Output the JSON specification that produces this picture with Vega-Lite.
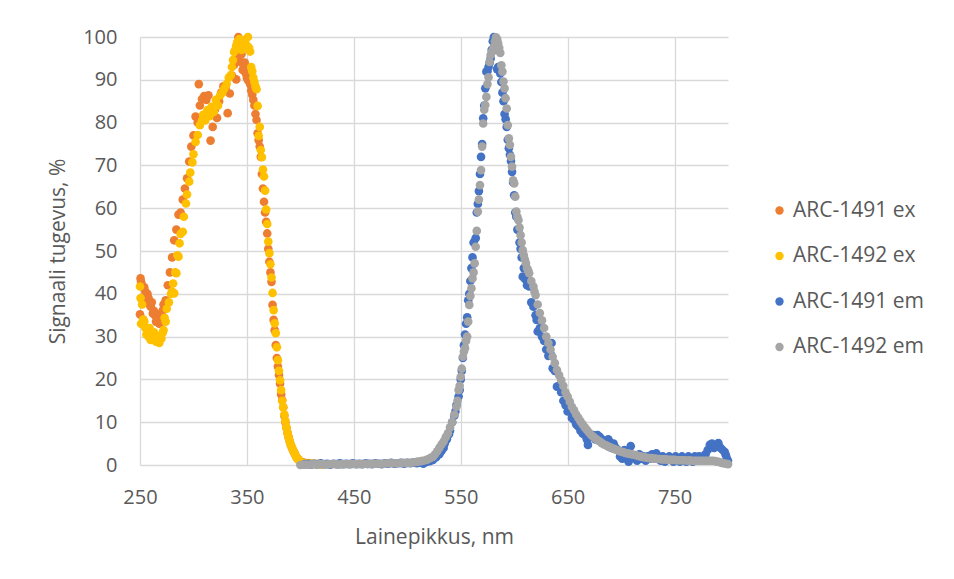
{
"$schema":"https://vega.github.io/schema/vega-lite/v6.json",
"width":588,"height":428,
"autosize":{"type":"none"},
"padding":{"left":140,"top":37,"right":226,"bottom":114},
"background":"white",
"config":{"font":"Open Sans","view":{"stroke":null},
"axis":{"labelColor":"#595959","titleColor":"#595959","labelFontSize":20,"titleFontSize":21,"titleFontWeight":"normal","ticks":false,"gridColor":"#d9d9d9","gridWidth":1.3,"domain":false,"labelFlush":false,"labelFont":"Open Sans","titleFont":"Open Sans"},
"legend":{"labelFontSize":21,"labelColor":"#595959","labelFont":"Open Sans","symbolType":"circle","symbolSize":70,"rowPadding":23.5,"labelOffset":3,"title":null}},
"encoding":{
"x":{"field":"x","type":"quantitative","scale":{"domain":[250,800],"nice":false,"zero":false},"axis":{"values":[250,350,450,550,650,750],"title":"Lainepikkus, nm","labelPadding":22,"titlePadding":19}},
"y":{"field":"y","type":"quantitative","scale":{"domain":[0,100],"nice":false},"axis":{"values":[0,10,20,30,40,50,60,70,80,90,100],"title":"Signaali tugevus, %","labelPadding":23,"titlePadding":14}},
"color":{"scale":{"domain":["ARC-1491 ex","ARC-1492 ex","ARC-1491 em","ARC-1492 em"],"range":["#ED7D31","#FFC000","#4472C4","#A5A5A5"]},"legend":{"orient":"none","legendX":629,"legendY":163}}
},
"layer":[
{"data":{"values":[
{"x":250,"y":35.2},{"x":250.5,"y":43.6},{"x":251,"y":42.8},{"x":252,"y":42.0},{"x":253,"y":34.0},{"x":254,"y":41.5},{"x":255,"y":40.5},{"x":256,"y":38.5},{"x":257,"y":40.0},{"x":258,"y":39.0},{"x":259,"y":37.5},{"x":260,"y":37.0},{"x":261,"y":38.0},{"x":262,"y":35.4},{"x":263,"y":36.0},{"x":264,"y":35.0},{"x":265,"y":33.5},{"x":266,"y":35.0},{"x":267,"y":34.0},{"x":268,"y":33.0},{"x":269,"y":34.5},{"x":270,"y":33.5},{"x":271,"y":36.0},{"x":272,"y":37.5},{"x":274,"y":38.5},{"x":276,"y":42.0},{"x":278,"y":45.0},{"x":280,"y":48.5},{"x":282,"y":52.5},{"x":284,"y":55.0},{"x":286,"y":58.5},{"x":288,"y":59.0},{"x":290,"y":62.0},{"x":292,"y":64.6},{"x":294,"y":67.0},{"x":296,"y":70.9},{"x":298,"y":74.4},{"x":300,"y":77.0},{"x":302,"y":81.4},{"x":304,"y":80.0},{"x":305,"y":89.0},{"x":306,"y":84.0},{"x":308,"y":85.5},{"x":310,"y":86.2},{"x":312,"y":85.3},{"x":314,"y":86.4},{"x":316,"y":75.8},{"x":318,"y":79.0},{"x":320,"y":83.0},{"x":322,"y":81.1},{"x":324,"y":85.0},{"x":326,"y":87.0},{"x":328,"y":88.5},{"x":330,"y":88.0},{"x":332,"y":82.2},{"x":334,"y":86.8},{"x":336,"y":91.0},{"x":338,"y":93.5},{"x":340,"y":90.1},{"x":341,"y":95.5},{"x":342,"y":100.0},{"x":343,"y":98.0},{"x":344,"y":94.2},{"x":345,"y":96.0},{"x":346,"y":92.3},{"x":347,"y":93.0},{"x":348,"y":94.0},{"x":349,"y":91.5},{"x":350,"y":90.5},{"x":351,"y":89.9},{"x":352,"y":91.0},{"x":353,"y":89.0},{"x":354,"y":87.5},{"x":355,"y":86.5},{"x":356,"y":85.3},{"x":357,"y":84.0},{"x":358,"y":82.0},{"x":359,"y":80.6},{"x":360,"y":77.5},{"x":361,"y":75.9},{"x":362,"y":74.4},{"x":363,"y":72.0},{"x":364,"y":68.0},{"x":365,"y":64.6},{"x":366,"y":61.5},{"x":367,"y":59.0},{"x":368,"y":56.8},{"x":369,"y":54.1},{"x":370,"y":50.5},{"x":371,"y":47.5},{"x":372,"y":45.0},{"x":373,"y":42.8},{"x":374,"y":37.4},{"x":375,"y":33.9},{"x":376,"y":31.5},{"x":377,"y":28.0},{"x":378,"y":25.0},{"x":379,"y":23.0},{"x":380,"y":21.0},{"x":381,"y":19.0},{"x":382,"y":16.5},{"x":383,"y":15.2},{"x":384,"y":13.5},{"x":385,"y":11.5},{"x":386,"y":10.0},{"x":387,"y":8.7},{"x":388,"y":7.5},{"x":389,"y":6.5},{"x":390,"y":5.6},{"x":391,"y":4.8},{"x":392,"y":4.1},{"x":393,"y":3.5},{"x":394,"y":3.0},{"x":395,"y":2.5},{"x":396,"y":2.0},{"x":397,"y":1.6},{"x":398,"y":1.3},{"x":399,"y":1.0},{"x":400,"y":0.8},{"x":402,"y":0.6},{"x":404,"y":0.5},{"x":406,"y":0.4},{"x":408,"y":0.4},{"x":410,"y":0.3},{"x":412,"y":0.3},{"x":415,"y":0.2},{"x":418,"y":0.2},{"x":420,"y":0.2}
]},"mark":{"type":"circle","size":75,"opacity":1},"encoding":{"color":{"datum":"ARC-1491 ex"}}},
{"data":{"values":[
{"x":250,"y":41.7},{"x":250.5,"y":39.0},{"x":251,"y":33.0},{"x":252,"y":37.5},{"x":253,"y":34.0},{"x":254,"y":33.5},{"x":255,"y":32.0},{"x":256,"y":30.5},{"x":257,"y":31.5},{"x":258,"y":30.0},{"x":259,"y":32.0},{"x":260,"y":29.2},{"x":261,"y":30.5},{"x":262,"y":29.5},{"x":263,"y":31.0},{"x":264,"y":30.0},{"x":265,"y":28.8},{"x":266,"y":29.8},{"x":267,"y":29.0},{"x":268,"y":28.5},{"x":269,"y":30.0},{"x":270,"y":29.5},{"x":271,"y":30.8},{"x":272,"y":31.5},{"x":273,"y":34.4},{"x":274,"y":33.5},{"x":275,"y":36.5},{"x":277,"y":38.0},{"x":279,"y":40.0},{"x":280,"y":40.5},{"x":281,"y":42.4},{"x":282,"y":40.1},{"x":283,"y":45.0},{"x":284,"y":44.8},{"x":285,"y":49.0},{"x":286,"y":48.7},{"x":287,"y":51.8},{"x":288,"y":54.0},{"x":290,"y":54.5},{"x":291,"y":58.0},{"x":293,"y":61.1},{"x":294,"y":63.2},{"x":296,"y":66.2},{"x":297,"y":68.3},{"x":299,"y":70.7},{"x":300,"y":72.6},{"x":302,"y":75.5},{"x":304,"y":77.1},{"x":306,"y":79.4},{"x":308,"y":80.5},{"x":309,"y":81.8},{"x":311,"y":80.5},{"x":313,"y":82.9},{"x":315,"y":81.5},{"x":317,"y":83.7},{"x":319,"y":82.5},{"x":321,"y":85.3},{"x":323,"y":84.0},{"x":325,"y":86.4},{"x":327,"y":87.0},{"x":329,"y":88.0},{"x":331,"y":89.0},{"x":333,"y":90.5},{"x":335,"y":91.1},{"x":336,"y":93.0},{"x":337,"y":94.6},{"x":338,"y":96.5},{"x":339,"y":97.0},{"x":340,"y":98.0},{"x":341,"y":98.9},{"x":342,"y":97.5},{"x":343,"y":99.5},{"x":344,"y":98.5},{"x":345,"y":97.0},{"x":346,"y":99.3},{"x":347,"y":98.0},{"x":348,"y":99.0},{"x":349,"y":97.5},{"x":350,"y":98.0},{"x":351,"y":100.0},{"x":352,"y":97.5},{"x":353,"y":96.6},{"x":354,"y":93.0},{"x":355,"y":92.0},{"x":356,"y":90.5},{"x":357,"y":89.5},{"x":358,"y":88.5},{"x":359,"y":87.8},{"x":360,"y":83.9},{"x":361,"y":76.9},{"x":362,"y":79.0},{"x":363,"y":73.6},{"x":364,"y":71.9},{"x":365,"y":69.0},{"x":366,"y":67.4},{"x":367,"y":64.1},{"x":368,"y":59.7},{"x":369,"y":56.3},{"x":370,"y":52.2},{"x":371,"y":49.5},{"x":372,"y":46.9},{"x":373,"y":43.8},{"x":374,"y":40.2},{"x":375,"y":36.2},{"x":376,"y":33.1},{"x":377,"y":30.8},{"x":378,"y":27.5},{"x":379,"y":24.5},{"x":380,"y":22.0},{"x":381,"y":19.8},{"x":382,"y":17.5},{"x":383,"y":15.0},{"x":384,"y":13.5},{"x":385,"y":11.8},{"x":386,"y":10.3},{"x":387,"y":8.8},{"x":388,"y":7.5},{"x":389,"y":6.4},{"x":390,"y":5.5},{"x":391,"y":4.7},{"x":392,"y":4.2},{"x":393,"y":3.6},{"x":394,"y":3.0},{"x":395,"y":2.5},{"x":396,"y":2.0},{"x":397,"y":1.6},{"x":398,"y":1.3},{"x":399,"y":1.0},{"x":400,"y":0.6},{"x":402,"y":0.5},{"x":404,"y":0.4},{"x":406,"y":0.4},{"x":408,"y":0.3},{"x":410,"y":0.3},{"x":412,"y":0.3},{"x":415,"y":0.2},{"x":418,"y":0.2},{"x":420,"y":0.2}
]},"mark":{"type":"circle","size":75,"opacity":1},"encoding":{"color":{"datum":"ARC-1492 ex"}}},
{"data":{"values":[
{"x":404,"y":0.2},{"x":407,"y":0.3},{"x":410,"y":0.1},{"x":413,"y":0.3},{"x":416,"y":0.2},{"x":419,"y":0.4},{"x":422,"y":0.2},{"x":425,"y":0.3},{"x":428,"y":0.1},{"x":431,"y":0.3},{"x":434,"y":0.2},{"x":437,"y":0.4},{"x":440,"y":0.2},{"x":443,"y":0.3},{"x":446,"y":0.2},{"x":449,"y":0.4},{"x":452,"y":0.2},{"x":455,"y":0.3},{"x":458,"y":0.2},{"x":461,"y":0.4},{"x":464,"y":0.3},{"x":467,"y":0.2},{"x":470,"y":0.4},{"x":473,"y":0.3},{"x":476,"y":0.2},{"x":479,"y":0.4},{"x":482,"y":0.3},{"x":485,"y":0.5},{"x":488,"y":0.3},{"x":491,"y":0.4},{"x":494,"y":0.5},{"x":497,"y":0.3},{"x":500,"y":0.5},{"x":503,"y":0.4},{"x":506,"y":0.6},{"x":509,"y":0.4},{"x":512,"y":0.6},{"x":515,"y":0.3},{"x":518,"y":0.7},{"x":521,"y":0.9},{"x":524,"y":1.2},{"x":527,"y":1.8},{"x":530,"y":2.5},{"x":532,"y":3.3},{"x":534,"y":4.0},{"x":535,"y":5.0},{"x":537,"y":6.0},{"x":539,"y":7.2},{"x":540,"y":8.0},{"x":542,"y":10.0},{"x":544,"y":11.5},{"x":545,"y":12.5},{"x":546,"y":14.0},{"x":548,"y":16.0},{"x":549,"y":17.5},{"x":550,"y":20.0},{"x":551,"y":22.0},{"x":552,"y":25.0},{"x":553,"y":28.0},{"x":554,"y":30.5},{"x":555,"y":33.0},{"x":556,"y":34.5},{"x":557,"y":38.5},{"x":558,"y":40.0},{"x":559,"y":43.0},{"x":560,"y":46.0},{"x":561,"y":48.5},{"x":562,"y":52.0},{"x":564,"y":53.0},{"x":565,"y":59.0},{"x":566,"y":61.0},{"x":567,"y":64.0},{"x":568,"y":68.0},{"x":569,"y":72.0},{"x":570,"y":75.0},{"x":571,"y":81.0},{"x":572,"y":84.0},{"x":573,"y":88.0},{"x":574,"y":91.9},{"x":575,"y":92.0},{"x":576,"y":93.0},{"x":577,"y":94.0},{"x":578,"y":95.0},{"x":579,"y":97.0},{"x":580,"y":99.0},{"x":581,"y":100.0},{"x":582,"y":99.0},{"x":583,"y":97.0},{"x":584,"y":92.5},{"x":585,"y":93.0},{"x":586,"y":92.5},{"x":587,"y":91.5},{"x":588,"y":89.5},{"x":589,"y":87.0},{"x":590,"y":85.0},{"x":591,"y":82.0},{"x":592,"y":80.8},{"x":593,"y":79.0},{"x":594,"y":76.0},{"x":595,"y":74.0},{"x":596,"y":72.5},{"x":597,"y":71.0},{"x":598,"y":68.5},{"x":599,"y":66.0},{"x":600,"y":63.0},{"x":601,"y":59.0},{"x":602,"y":58.0},{"x":603,"y":55.0},{"x":604,"y":54.9},{"x":605,"y":52.0},{"x":606,"y":50.5},{"x":607,"y":48.5},{"x":608,"y":44.0},{"x":609,"y":46.0},{"x":610,"y":43.5},{"x":612,"y":42.0},{"x":614,"y":41.7},{"x":616,"y":38.0},{"x":618,"y":37.0},{"x":620,"y":35.0},{"x":621,"y":33.9},{"x":622,"y":31.2},{"x":624,"y":32.0},{"x":626,"y":30.0},{"x":628,"y":29.0},{"x":630,"y":27.0},{"x":632,"y":25.5},{"x":634,"y":26.0},{"x":635,"y":28.5},{"x":636,"y":22.6},{"x":638,"y":22.0},{"x":640,"y":18.3},{"x":642,"y":18.5},{"x":644,"y":17.0},{"x":646,"y":15.0},{"x":648,"y":14.0},{"x":650,"y":12.5},{"x":652,"y":12.5},{"x":654,"y":11.0},{"x":656,"y":10.5},{"x":658,"y":9.5},{"x":660,"y":9.0},{"x":662,"y":8.0},{"x":664,"y":7.4},{"x":666,"y":7.0},{"x":668,"y":6.0},{"x":669,"y":4.7},{"x":671,"y":6.5},{"x":674,"y":7.0},{"x":676,"y":6.0},{"x":678,"y":7.0},{"x":680,"y":6.6},{"x":682,"y":6.0},{"x":684,"y":5.0},{"x":686,"y":5.5},{"x":688,"y":6.0},{"x":689,"y":5.5},{"x":691,"y":4.0},{"x":693,"y":5.0},{"x":695,"y":4.0},{"x":697,"y":3.5},{"x":699,"y":2.0},{"x":701,"y":1.5},{"x":703,"y":3.5},{"x":705,"y":1.5},{"x":707,"y":0.8},{"x":709,"y":4.4},{"x":711,"y":2.0},{"x":713,"y":1.5},{"x":715,"y":1.0},{"x":717,"y":2.5},{"x":719,"y":1.5},{"x":721,"y":2.0},{"x":723,"y":1.0},{"x":725,"y":2.0},{"x":727,"y":1.5},{"x":729,"y":2.5},{"x":731,"y":1.5},{"x":733,"y":2.7},{"x":735,"y":2.0},{"x":737,"y":1.0},{"x":739,"y":2.0},{"x":741,"y":0.8},{"x":743,"y":1.5},{"x":745,"y":2.0},{"x":747,"y":1.5},{"x":749,"y":0.8},{"x":751,"y":2.0},{"x":753,"y":1.5},{"x":755,"y":0.8},{"x":757,"y":2.0},{"x":759,"y":1.5},{"x":761,"y":0.8},{"x":763,"y":2.0},{"x":765,"y":1.5},{"x":767,"y":0.8},{"x":769,"y":2.0},{"x":771,"y":1.5},{"x":773,"y":2.0},{"x":775,"y":1.5},{"x":777,"y":2.0},{"x":779,"y":2.5},{"x":781,"y":3.5},{"x":783,"y":4.7},{"x":785,"y":5.0},{"x":787,"y":4.0},{"x":789,"y":4.5},{"x":791,"y":5.1},{"x":793,"y":4.0},{"x":795,"y":3.5},{"x":797,"y":3.0},{"x":798,"y":2.3},{"x":799,"y":1.5},{"x":800,"y":1.0}
]},"mark":{"type":"circle","size":75,"opacity":1},"encoding":{"color":{"datum":"ARC-1491 em"}}},
{"data":{"values":[
{"x":400,"y":0.0},{"x":403,"y":0.1},{"x":406,"y":0.1},{"x":409,"y":0.1},{"x":412,"y":0.2},{"x":415,"y":0.1},{"x":418,"y":0.2},{"x":421,"y":0.2},{"x":424,"y":0.1},{"x":427,"y":0.2},{"x":430,"y":0.2},{"x":433,"y":0.2},{"x":436,"y":0.1},{"x":439,"y":0.2},{"x":442,"y":0.2},{"x":445,"y":0.2},{"x":448,"y":0.2},{"x":451,"y":0.3},{"x":454,"y":0.2},{"x":457,"y":0.2},{"x":460,"y":0.3},{"x":463,"y":0.2},{"x":466,"y":0.3},{"x":469,"y":0.3},{"x":472,"y":0.3},{"x":475,"y":0.3},{"x":478,"y":0.3},{"x":481,"y":0.4},{"x":484,"y":0.4},{"x":487,"y":0.4},{"x":490,"y":0.4},{"x":493,"y":0.4},{"x":496,"y":0.5},{"x":499,"y":0.5},{"x":502,"y":0.5},{"x":505,"y":0.6},{"x":508,"y":0.7},{"x":510,"y":0.8},{"x":513,"y":0.9},{"x":515,"y":1.0},{"x":518,"y":1.2},{"x":520,"y":1.4},{"x":522,"y":1.7},{"x":524,"y":1.9},{"x":526,"y":2.5},{"x":528,"y":3.2},{"x":530,"y":4.0},{"x":532,"y":4.8},{"x":534,"y":5.5},{"x":536,"y":6.5},{"x":538,"y":7.4},{"x":540,"y":8.8},{"x":542,"y":10.0},{"x":544,"y":11.8},{"x":546,"y":13.6},{"x":547,"y":15.0},{"x":548,"y":17.5},{"x":549,"y":18.5},{"x":550,"y":20.6},{"x":551,"y":22.5},{"x":552,"y":25.3},{"x":553,"y":26.5},{"x":554,"y":27.3},{"x":555,"y":29.0},{"x":556,"y":30.0},{"x":557,"y":33.5},{"x":558,"y":37.4},{"x":559,"y":39.5},{"x":560,"y":41.3},{"x":561,"y":43.6},{"x":562,"y":45.0},{"x":563,"y":47.1},{"x":564,"y":51.0},{"x":565,"y":54.7},{"x":566,"y":59.2},{"x":567,"y":62.0},{"x":568,"y":65.4},{"x":569,"y":68.9},{"x":570,"y":74.4},{"x":571,"y":79.8},{"x":572,"y":83.0},{"x":573,"y":84.1},{"x":574,"y":86.0},{"x":575,"y":89.0},{"x":576,"y":90.6},{"x":577,"y":94.2},{"x":578,"y":95.8},{"x":579,"y":96.5},{"x":580,"y":97.0},{"x":581,"y":97.7},{"x":582,"y":99.0},{"x":583,"y":99.9},{"x":584,"y":99.5},{"x":585,"y":98.5},{"x":586,"y":97.5},{"x":587,"y":96.3},{"x":588,"y":93.4},{"x":589,"y":91.9},{"x":590,"y":89.6},{"x":591,"y":88.0},{"x":592,"y":85.7},{"x":593,"y":83.3},{"x":594,"y":79.4},{"x":595,"y":76.3},{"x":596,"y":74.8},{"x":597,"y":72.0},{"x":598,"y":69.7},{"x":599,"y":66.5},{"x":600,"y":65.8},{"x":601,"y":62.7},{"x":602,"y":59.2},{"x":603,"y":58.0},{"x":604,"y":57.2},{"x":605,"y":55.5},{"x":606,"y":53.7},{"x":607,"y":52.0},{"x":608,"y":50.2},{"x":609,"y":49.0},{"x":610,"y":48.0},{"x":611,"y":47.1},{"x":612,"y":46.0},{"x":613,"y":45.5},{"x":614,"y":44.8},{"x":616,"y":43.0},{"x":618,"y":41.7},{"x":619,"y":40.5},{"x":620,"y":39.7},{"x":622,"y":37.5},{"x":624,"y":35.5},{"x":626,"y":33.8},{"x":628,"y":32.0},{"x":630,"y":30.0},{"x":632,"y":28.5},{"x":634,"y":27.0},{"x":636,"y":25.3},{"x":638,"y":23.8},{"x":640,"y":22.2},{"x":642,"y":21.0},{"x":644,"y":19.8},{"x":646,"y":18.5},{"x":648,"y":17.0},{"x":650,"y":16.0},{"x":652,"y":14.8},{"x":654,"y":13.6},{"x":656,"y":12.8},{"x":658,"y":11.8},{"x":660,"y":11.0},{"x":662,"y":10.2},{"x":664,"y":9.5},{"x":666,"y":8.8},{"x":668,"y":8.2},{"x":670,"y":7.6},{"x":672,"y":7.0},{"x":674,"y":6.6},{"x":676,"y":6.2},{"x":678,"y":5.8},{"x":680,"y":5.5},{"x":682,"y":5.1},{"x":684,"y":4.8},{"x":686,"y":4.6},{"x":688,"y":4.3},{"x":690,"y":4.1},{"x":692,"y":3.9},{"x":694,"y":3.7},{"x":696,"y":3.5},{"x":698,"y":3.3},{"x":700,"y":3.1},{"x":702,"y":3.0},{"x":704,"y":2.8},{"x":706,"y":2.7},{"x":708,"y":2.6},{"x":710,"y":2.5},{"x":712,"y":2.4},{"x":714,"y":2.3},{"x":716,"y":2.1},{"x":718,"y":2.0},{"x":720,"y":1.9},{"x":722,"y":1.8},{"x":724,"y":1.7},{"x":726,"y":1.6},{"x":728,"y":1.6},{"x":730,"y":1.5},{"x":732,"y":1.5},{"x":734,"y":1.4},{"x":736,"y":1.4},{"x":738,"y":1.3},{"x":740,"y":1.3},{"x":742,"y":1.3},{"x":744,"y":1.2},{"x":746,"y":1.2},{"x":748,"y":1.2},{"x":750,"y":1.2},{"x":752,"y":1.1},{"x":754,"y":1.1},{"x":756,"y":1.1},{"x":758,"y":1.1},{"x":760,"y":1.1},{"x":762,"y":1.0},{"x":764,"y":1.1},{"x":766,"y":1.0},{"x":768,"y":1.0},{"x":770,"y":1.0},{"x":772,"y":1.0},{"x":774,"y":1.0},{"x":776,"y":1.0},{"x":778,"y":1.0},{"x":780,"y":1.0},{"x":782,"y":1.0},{"x":784,"y":1.0},{"x":786,"y":1.0},{"x":788,"y":0.9},{"x":790,"y":0.8},{"x":792,"y":0.7},{"x":794,"y":0.5},{"x":796,"y":0.4},{"x":798,"y":0.3},{"x":800,"y":0.2}
]},"mark":{"type":"circle","size":75,"opacity":1},"encoding":{"color":{"datum":"ARC-1492 em"}}}
]
}
